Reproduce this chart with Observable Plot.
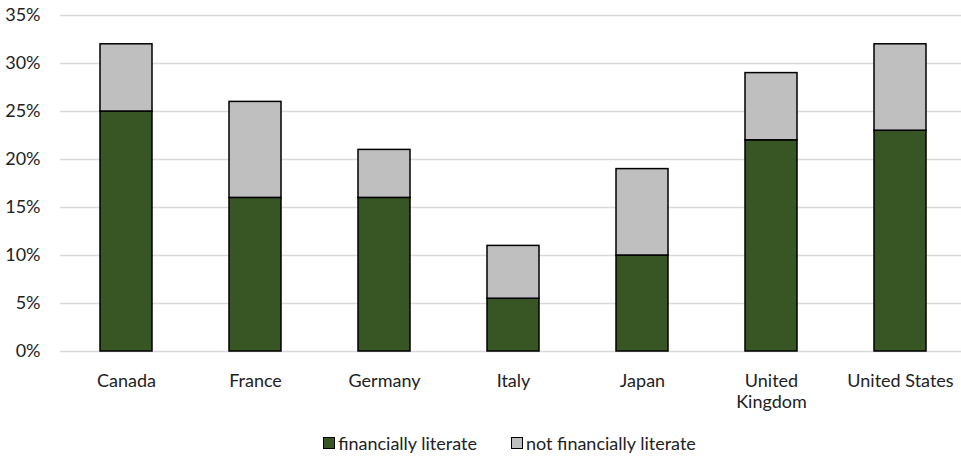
<!DOCTYPE html>
<html><head><meta charset="utf-8">
<script src="https://cdn.jsdelivr.net/npm/d3@7"></script>
<script src="https://cdn.jsdelivr.net/npm/@observablehq/plot@0.6"></script>
<style>
body{margin:0;background:#fff;font-family:Lato,"Open Sans",sans-serif;}
#legend{display:flex;justify-content:center;gap:34px;font-size:18px;color:#222;margin-top:13px;padding-left:58px;line-height:20px;}
#legend span{display:inline-flex;align-items:center;}
#legend i{display:inline-block;width:10px;height:10px;border:1px solid #000;margin-right:3px;}
</style></head>
<body>
<div id="chart"></div>
<div id="legend"></div>
<script>
const countries = ["Canada","France","Germany","Italy","Japan","United Kingdom","United States"];
const literate = [25,16,16,5.5,10,22,23];
const notLiterate = [7,10,5,5.5,9,7,9];
const seriesNames = ["financially literate","not financially literate"];
const seriesColors = ["#375623","#bfbfbf"];
const yTicks = [0,5,10,15,20,25,30,35];

const data = [];
countries.forEach((c,i)=>{
  data.push({country:c, series:seriesNames[0], value:literate[i]});
  data.push({country:c, series:seriesNames[1], value:notLiterate[i]});
});

const chart = Plot.plot({
  width: 961, height: 420,
  marginLeft: 60, marginRight: 0, marginTop: 15, marginBottom: 69,
  style:{fontFamily:'Lato,"Open Sans",sans-serif', fontSize:"18px", color:"#222"},
  x:{domain:countries, range:[60,966], paddingInner:0.6, paddingOuter:0.3, label:null},
  y:{domain:[0,35], label:null},
  color:{domain:seriesNames, range:seriesColors},
  marks:[
    Plot.gridY(yTicks,{stroke:"#d9d9d9", strokeOpacity:1, strokeWidth:1.5}),
    Plot.axisY(yTicks,{tickSize:0, tickPadding:20, tickFormat:d=>d+"%", label:null}),
    Plot.axisX({tickSize:0, tickPadding:20, lineHeight:1.2, label:null,
      tickFormat:d=>d==="United Kingdom"?"United\nKingdom":d}),
    Plot.barY(data,{x:"country", y:"value", fill:"series", stroke:"#000", strokeWidth:1.5, order:seriesNames})
  ]
});
document.getElementById("chart").appendChild(chart);

const lg = document.getElementById("legend");
seriesNames.forEach((n,i)=>{
  const s=document.createElement("span");
  const sw=document.createElement("i");
  sw.style.background=seriesColors[i];
  s.appendChild(sw);
  s.appendChild(document.createTextNode(n));
  lg.appendChild(s);
});
</script>
</body></html>
